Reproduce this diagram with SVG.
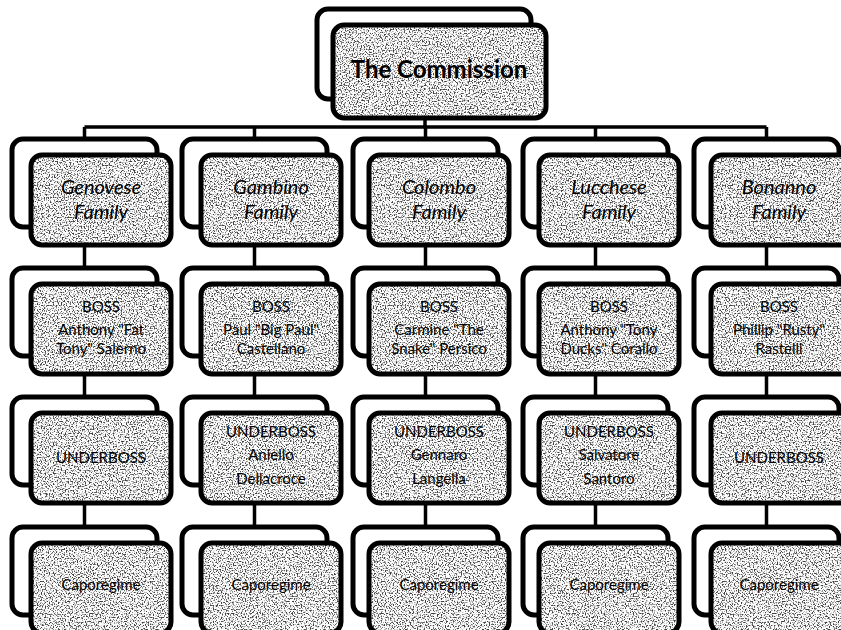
<svg xmlns="http://www.w3.org/2000/svg" width="841" height="630" viewBox="0 0 841 630">
<defs>
<filter id="grain" x="0" y="0" width="1" height="1" color-interpolation-filters="sRGB">
<feTurbulence type="fractalNoise" baseFrequency="0.75" numOctaves="1" seed="7" result="t"/>
<feColorMatrix in="t" type="matrix" values="0 0 0 0 0.25  0 0 0 0 0.25  0 0 0 0 0.25  6 0 0 0 -2.95" result="specks"/>
<feComposite in="specks" in2="SourceGraphic" operator="in" result="sp"/>
<feMerge><feMergeNode in="SourceGraphic"/><feMergeNode in="sp"/></feMerge>
</filter>
<style>
.back{fill:#fff;stroke:#000;stroke-width:5}
.fill{fill:#fff;filter:url(#grain)}
.front{fill:none;stroke:#000;stroke-width:5}
.con{fill:none;stroke:#000;stroke-width:3.5}
text{font-family:Lato,"Liberation Sans",sans-serif;text-anchor:middle;fill:#000}
.title{font-size:24px;font-weight:bold}
.fam{font-size:20px;font-style:italic}
.lab{font-size:15px}
</style>
</defs>
<rect width="841" height="630" fill="#fff"/>
<g id="connectors" class="con">
<path d="M425 118V127M84.5 127H766.5M84.5 127V139M254.5 127V139M425.5 127V139M595.5 127V139M766.5 127V139"/>
<path d="M84.5 245V268M84.5 374V397M84.5 503V527"/>
<path d="M254.5 245V268M254.5 374V397M254.5 503V527"/>
<path d="M425.5 245V268M425.5 374V397M425.5 503V527"/>
<path d="M595.5 245V268M595.5 374V397M595.5 503V527"/>
<path d="M766.5 245V268M766.5 374V397M766.5 503V527"/>
</g>
<g id="commission">
<rect class="back" x="317" y="9" width="214" height="90" rx="11"/>
<rect class="fill" x="333" y="25" width="213" height="93" rx="11"/>
<rect class="front" x="333" y="25" width="213" height="93" rx="11"/>
<text class="title" x="439" y="78">The Commission</text>
</g>
<!-- Genovese column -->
<g id="genovese">
<rect class="back" x="12" y="139" width="145" height="88" rx="11"/>
<rect class="fill" x="31" y="155" width="140" height="90" rx="11"/>
<rect class="front" x="31" y="155" width="140" height="90" rx="11"/>
<text class="fam" x="101" y="194">Genovese</text><text class="fam" x="101" y="219">Family</text>
</g>
<g id="genovese-boss">
<rect class="back" x="12" y="268" width="145" height="88" rx="11"/>
<rect class="fill" x="31" y="284" width="140" height="90" rx="11"/>
<rect class="front" x="31" y="284" width="140" height="90" rx="11"/>
<text class="lab" x="101" y="312">BOSS</text><text class="lab" x="101" y="335">Anthony "Fat</text><text class="lab" x="101" y="354">Tony" Salerno</text>
</g>
<g id="genovese-underboss">
<rect class="back" x="12" y="397" width="145" height="88" rx="11"/>
<rect class="fill" x="31" y="413" width="140" height="90" rx="11"/>
<rect class="front" x="31" y="413" width="140" height="90" rx="11"/>
<text class="lab" x="101" y="463">UNDERBOSS</text>
</g>
<g id="genovese-capo">
<rect class="back" x="12" y="527" width="145" height="88" rx="11"/>
<rect class="fill" x="31" y="543" width="140" height="90" rx="11"/>
<rect class="front" x="31" y="543" width="140" height="90" rx="11"/>
<text class="lab" x="101" y="590">Caporegime</text>
</g>
<!-- Gambino column -->
<g id="gambino">
<rect class="back" x="182" y="139" width="145" height="88" rx="11"/>
<rect class="fill" x="201" y="155" width="140" height="90" rx="11"/>
<rect class="front" x="201" y="155" width="140" height="90" rx="11"/>
<text class="fam" x="271" y="194">Gambino</text><text class="fam" x="271" y="219">Family</text>
</g>
<g id="gambino-boss">
<rect class="back" x="182" y="268" width="145" height="88" rx="11"/>
<rect class="fill" x="201" y="284" width="140" height="90" rx="11"/>
<rect class="front" x="201" y="284" width="140" height="90" rx="11"/>
<text class="lab" x="271" y="312">BOSS</text><text class="lab" x="271" y="335">Paul "Big Paul"</text><text class="lab" x="271" y="354">Castellano</text>
</g>
<g id="gambino-underboss">
<rect class="back" x="182" y="397" width="145" height="88" rx="11"/>
<rect class="fill" x="201" y="413" width="140" height="90" rx="11"/>
<rect class="front" x="201" y="413" width="140" height="90" rx="11"/>
<text class="lab" x="271" y="437">UNDERBOSS</text><text class="lab" x="271" y="460">Aniello</text><text class="lab" x="271" y="484">Dellacroce</text>
</g>
<g id="gambino-capo">
<rect class="back" x="182" y="527" width="145" height="88" rx="11"/>
<rect class="fill" x="201" y="543" width="140" height="90" rx="11"/>
<rect class="front" x="201" y="543" width="140" height="90" rx="11"/>
<text class="lab" x="271" y="590">Caporegime</text>
</g>
<!-- Colombo column -->
<g id="colombo">
<rect class="back" x="353" y="139" width="145" height="88" rx="11"/>
<rect class="fill" x="369" y="155" width="140" height="90" rx="11"/>
<rect class="front" x="369" y="155" width="140" height="90" rx="11"/>
<text class="fam" x="439" y="194">Colombo</text><text class="fam" x="439" y="219">Family</text>
</g>
<g id="colombo-boss">
<rect class="back" x="353" y="268" width="145" height="88" rx="11"/>
<rect class="fill" x="369" y="284" width="140" height="90" rx="11"/>
<rect class="front" x="369" y="284" width="140" height="90" rx="11"/>
<text class="lab" x="439" y="312">BOSS</text><text class="lab" x="439" y="335">Carmine "The</text><text class="lab" x="439" y="354">Snake" Persico</text>
</g>
<g id="colombo-underboss">
<rect class="back" x="353" y="397" width="145" height="88" rx="11"/>
<rect class="fill" x="369" y="413" width="140" height="90" rx="11"/>
<rect class="front" x="369" y="413" width="140" height="90" rx="11"/>
<text class="lab" x="439" y="437">UNDERBOSS</text><text class="lab" x="439" y="460">Gennaro</text><text class="lab" x="439" y="484">Langella</text>
</g>
<g id="colombo-capo">
<rect class="back" x="353" y="527" width="145" height="88" rx="11"/>
<rect class="fill" x="369" y="543" width="140" height="90" rx="11"/>
<rect class="front" x="369" y="543" width="140" height="90" rx="11"/>
<text class="lab" x="439" y="590">Caporegime</text>
</g>
<!-- Lucchese column -->
<g id="lucchese">
<rect class="back" x="523" y="139" width="145" height="88" rx="11"/>
<rect class="fill" x="539" y="155" width="140" height="90" rx="11"/>
<rect class="front" x="539" y="155" width="140" height="90" rx="11"/>
<text class="fam" x="609" y="194">Lucchese</text><text class="fam" x="609" y="219">Family</text>
</g>
<g id="lucchese-boss">
<rect class="back" x="523" y="268" width="145" height="88" rx="11"/>
<rect class="fill" x="539" y="284" width="140" height="90" rx="11"/>
<rect class="front" x="539" y="284" width="140" height="90" rx="11"/>
<text class="lab" x="609" y="312">BOSS</text><text class="lab" x="609" y="335">Anthony "Tony</text><text class="lab" x="609" y="354">Ducks" Corallo</text>
</g>
<g id="lucchese-underboss">
<rect class="back" x="523" y="397" width="145" height="88" rx="11"/>
<rect class="fill" x="539" y="413" width="140" height="90" rx="11"/>
<rect class="front" x="539" y="413" width="140" height="90" rx="11"/>
<text class="lab" x="609" y="437">UNDERBOSS</text><text class="lab" x="609" y="460">Salvatore</text><text class="lab" x="609" y="484">Santoro</text>
</g>
<g id="lucchese-capo">
<rect class="back" x="523" y="527" width="145" height="88" rx="11"/>
<rect class="fill" x="539" y="543" width="140" height="90" rx="11"/>
<rect class="front" x="539" y="543" width="140" height="90" rx="11"/>
<text class="lab" x="609" y="590">Caporegime</text>
</g>
<!-- Bonanno column -->
<g id="bonanno">
<rect class="back" x="694" y="139" width="145" height="88" rx="11"/>
<rect class="fill" x="711" y="155" width="140" height="90" rx="11"/>
<rect class="front" x="711" y="155" width="140" height="90" rx="11"/>
<text class="fam" x="779" y="194">Bonanno</text><text class="fam" x="779" y="219">Family</text>
</g>
<g id="bonanno-boss">
<rect class="back" x="694" y="268" width="145" height="88" rx="11"/>
<rect class="fill" x="711" y="284" width="140" height="90" rx="11"/>
<rect class="front" x="711" y="284" width="140" height="90" rx="11"/>
<text class="lab" x="779" y="312">BOSS</text><text class="lab" x="779" y="335">Phillip "Rusty"</text><text class="lab" x="779" y="354">Rastelli</text>
</g>
<g id="bonanno-underboss">
<rect class="back" x="694" y="397" width="145" height="88" rx="11"/>
<rect class="fill" x="711" y="413" width="140" height="90" rx="11"/>
<rect class="front" x="711" y="413" width="140" height="90" rx="11"/>
<text class="lab" x="779" y="463">UNDERBOSS</text>
</g>
<g id="bonanno-capo">
<rect class="back" x="694" y="527" width="145" height="88" rx="11"/>
<rect class="fill" x="711" y="543" width="140" height="90" rx="11"/>
<rect class="front" x="711" y="543" width="140" height="90" rx="11"/>
<text class="lab" x="779" y="590">Caporegime</text>
</g>
</svg>
